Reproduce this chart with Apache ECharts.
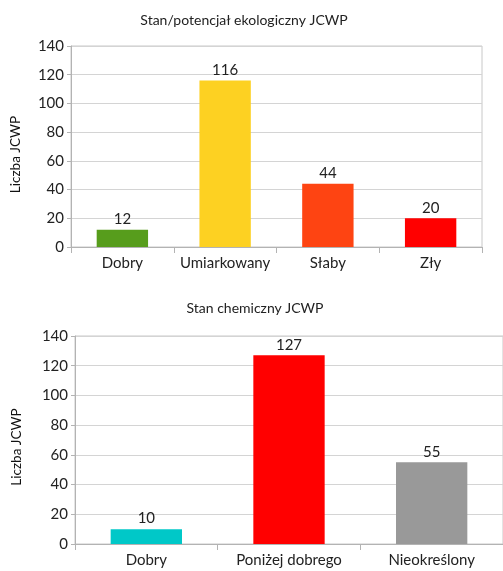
<!DOCTYPE html>
<html><head><meta charset="utf-8">
<script src="https://cdn.jsdelivr.net/npm/echarts@6/dist/echarts.min.js"></script>
<style>html,body{margin:0;padding:0;background:#fff}#c{width:503px;height:571px}</style>
</head><body><div id="c"></div>
<script>
const title1 = 'Stan/potencjał ekologiczny JCWP';
const cats1 = ['Dobry', 'Umiarkowany', 'Słaby', 'Zły'];
const vals1 = [12, 116, 44, 20];
const colors1 = ['#579d1c', '#fdd122', '#fe4412', '#ff0000'];
const title2 = 'Stan chemiczny JCWP';
const cats2 = ['Dobry', 'Poniżej dobrego', 'Nieokreślony'];
const vals2 = [10, 127, 55];
const colors2 = ['#00c8c8', '#ff0000', '#999999'];
const yName = 'Liczba JCWP';
const yMax = 140, yStep = 20;

const font = 'Lato, Open Sans, sans-serif';
const chart = echarts.init(document.getElementById('c'), null, {renderer: 'canvas'});
function xAx(cats, gi) {
  return {
    type: 'category', data: cats, gridIndex: gi,
    axisLine: {lineStyle: {color: '#b3b3b3'}},
    axisTick: {show: true, length: 6, lineStyle: {color: '#b3b3b3'}},
    axisLabel: {color: '#222', fontSize: 15, fontFamily: font, margin: 9, interval: 0}
  };
}
function yAx(gi, gap, shift) {
  return {
    type: 'value', gridIndex: gi, min: 0, max: yMax, interval: yStep,
    name: yName, nameLocation: 'middle', nameGap: gap,
    nameTextStyle: {color: '#111', fontSize: 13.5, fontFamily: font, padding: [0, shift, 0, 0]},
    axisLine: {show: true, lineStyle: {color: '#b3b3b3'}},
    axisTick: {show: true, length: 4, lineStyle: {color: '#b3b3b3'}},
    axisLabel: {color: '#222', fontSize: 15, fontFamily: font, margin: 7},
    splitLine: {lineStyle: {color: '#d4d4d4'}}
  };
}
function ser(vals, colors, i) {
  return {
    type: 'bar', xAxisIndex: i, yAxisIndex: i, barWidth: '50%',
    data: vals.map((v, k) => ({value: v, itemStyle: {color: colors[k]}})),
    label: {show: true, position: 'top', color: '#222', fontSize: 15, fontFamily: font, distance: 3},
    animation: false
  };
}
chart.setOption({
  animation: false,
  title: [
    {text: title1, left: 239, top: 8, textAlign: 'center', textStyle: {fontSize: 14, fontWeight: 'normal', color: '#222', fontFamily: font}},
    {text: title2, left: 250, top: 296, textAlign: 'center', textStyle: {fontSize: 14, fontWeight: 'normal', color: '#222', fontFamily: font}}
  ],
  grid: [
    {left: 71, right: 21, top: 46, bottom: 324, show: true, borderColor: '#c8c8c8', borderWidth: 1},
    {left: 75, right: -3, top: 336, bottom: 27, show: true, borderColor: '#c8c8c8', borderWidth: 1}
  ],
  xAxis: [xAx(cats1, 0), xAx(cats2, 1)],
  yAxis: [yAx(0, 48, 16), yAx(1, 51, 14)],
  series: [ser(vals1, colors1, 0), ser(vals2, colors2, 1)]
});
</script></body></html>
